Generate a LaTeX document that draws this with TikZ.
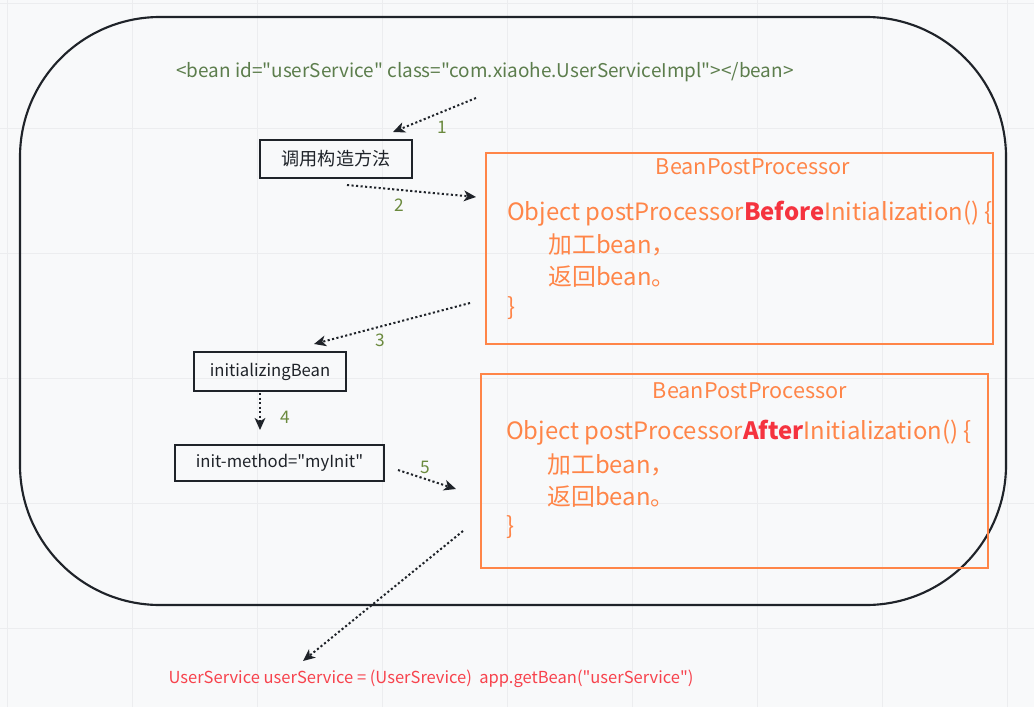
\documentclass[tikz,border=0pt]{standalone}
\usepackage{fontspec}
\setmainfont{Noto Sans CJK SC}[Ligatures=TeXOff]
\usetikzlibrary{arrows.meta}
\definecolor{bgc}{HTML}{F8F9FA}
\definecolor{gridc}{HTML}{ECEDEF}
\definecolor{darkc}{HTML}{1F2329}
\definecolor{orangec}{HTML}{FF8548}
\definecolor{boldred}{HTML}{F5333F}
\definecolor{codered}{HTML}{F7434D}
\definecolor{greenc}{HTML}{5C7D4C}
\definecolor{numc}{HTML}{6B8A3E}
\tikzset{
  blackbox/.style={draw=darkc, line width=1.5pt, inner sep=0pt, text=darkc, font=\fontsize{12.5pt}{15pt}\selectfont},
  orangebox/.style={draw=orangec, line width=1.9pt, inner sep=0pt},
  otitle/.style={text=orangec, inner sep=0pt, font=\fontsize{16.2pt}{19pt}\selectfont},
  oline/.style={text=orangec, inner sep=0pt, anchor=west, font=\fontsize{17.9pt}{21pt}\selectfont},
  numlabel/.style={text=numc, inner sep=0pt, font=\fontsize{13pt}{15pt}\selectfont},
  dotarrow/.style={draw=darkc, line width=1.5pt, dash pattern=on 1.6pt off 1.8pt, -{Stealth[length=9pt,width=8pt,inset=2.5pt]}}
}
\begin{document}
\begin{tikzpicture}[x=0.75pt,y=-0.75pt]
\fill[bgc] (0,0) rectangle (1034,707);
\useasboundingbox (0,0) rectangle (1034,707);
\foreach \gx in {7,132,...,1007} \draw[gridc,line width=0.75pt] (\gx,0) -- (\gx,707);
\foreach \gy in {3,128,...,628} \draw[gridc,line width=0.75pt] (0,\gy) -- (1034,\gy);
% outer container
\draw[darkc, line width=1.6pt, rounded corners=105pt] (20,17) rectangle (1006,605);
% top text
\node[text=greenc, inner sep=0pt, font=\fontsize{14.2pt}{17pt}\selectfont] (beandef) at (485,72) {<bean id="userService" class="com.xiaohe.UserServiceImpl"></bean>};
% black boxes
\node[blackbox, minimum width=114pt, minimum height=28.5pt, font=\fontsize{13.6pt}{16pt}\selectfont] (ctor) at (336,159) {调用构造方法};
\node[blackbox, minimum width=114pt, minimum height=29.25pt] (initbean) at (270,371.5) {initializingBean};
\node[blackbox, minimum width=156.75pt, minimum height=27pt] (initmethod) at (279.5,463) {init-method="myInit"};
% orange boxes
\node[orangebox, minimum width=380.25pt, minimum height=143.25pt] (bppone) at (739.5,248.5) {};
\node[otitle] (titleone) at (753,167) {BeanPostProcessor};
\node[oline] (lineoneA) at (507,214) {Object postProcessor\textcolor{boldred}{\textbf{Before}}Initialization() \{};
\node[oline] (lineoneB) at (548,245) {加工bean，};
\node[oline] (lineoneC) at (548,277) {返回bean。};
\node[oline] (lineoneD) at (507,308) {\}};
\node[orangebox, minimum width=380.25pt, minimum height=145.5pt] (bpptwo) at (734.5,471) {};
\node[otitle] (titletwo) at (750,391) {BeanPostProcessor};
\node[oline] (linetwoA) at (506,433) {Object postProcessor\textcolor{boldred}{\textbf{After}}Initialization() \{};
\node[oline] (linetwoB) at (547,465) {加工bean，};
\node[oline] (linetwoC) at (547,497) {返回bean。};
\node[oline] (linetwoD) at (506,527) {\}};
% bottom text
\node[text=codered, inner sep=0pt, font=\fontsize{12.4pt}{14pt}\selectfont] (getbean) at (431,679) {UserService userService = (UserSrevice)\ \ app.getBean("userService")};
% arrow end points
\coordinate (s1) at (476,98);  \coordinate (e1) at (393,132);
\coordinate (s2) at (347,185); \coordinate (e2) at (476,197);
\coordinate (s3) at (470,303); \coordinate (e3) at (314,344);
\coordinate (s4) at (260,393); \coordinate (e4) at (260,430);
\coordinate (s5) at (398,470); \coordinate (e5) at (456,489);
\coordinate (s6) at (463,531); \coordinate (e6) at (303,661);
\draw[dotarrow] (s1) -- (e1);
\draw[dotarrow] (s2) -- (e2);
\draw[dotarrow] (s3) -- (e3);
\draw[dotarrow] (s4) -- (e4);
\draw[dotarrow] (s5) -- (e5);
\draw[dotarrow] (s6) -- (e6);
\node[numlabel] (n1) at (442,127) {1};
\node[numlabel] (n2) at (399,205) {2};
\node[numlabel] (n3) at (380,340) {3};
\node[numlabel] (n4) at (285,417) {4};
\node[numlabel] (n5) at (425,467) {5};
\end{tikzpicture}
\end{document}
